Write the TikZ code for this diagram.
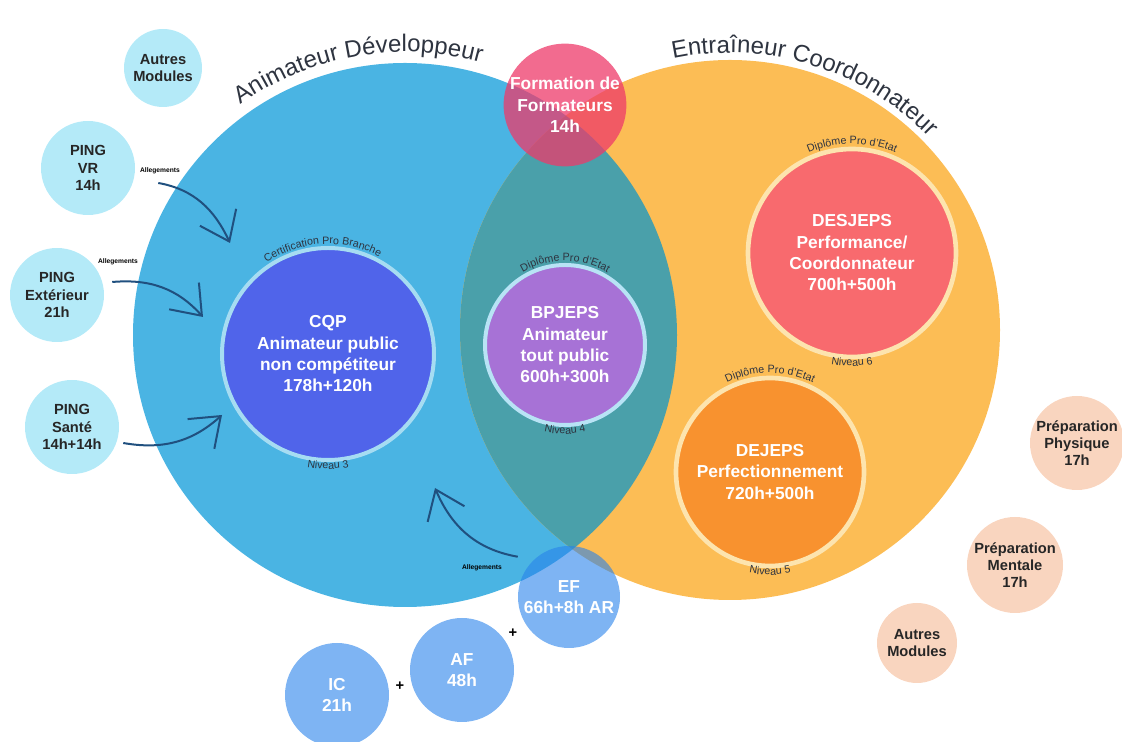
\documentclass[tikz,border=0pt]{standalone}
\usepackage{fontspec}
\setmainfont{Liberation Sans}
\usetikzlibrary{arrows.meta,decorations.text}

\definecolor{devblue}{HTML}{4AB4E3}
\definecolor{coachorange}{HTML}{FCBD55}
\definecolor{mixteal}{HTML}{4AA0AA}
\definecolor{cqpblue}{HTML}{5064EA}
\definecolor{bpviolet}{HTML}{A772D6}
\definecolor{desred}{HTML}{F86A6E}
\definecolor{deorange}{HTML}{F8922F}
\definecolor{formpink}{HTML}{EE3A6A}
\definecolor{modblue}{HTML}{2882EB}
\definecolor{pingcyan}{HTML}{B4EAF8}
\definecolor{prepeach}{HTML}{F9D5BF}
\definecolor{ringblue}{HTML}{A6DCF2}
\definecolor{ringcream}{HTML}{FDE4AE}
\definecolor{arrowblue}{HTML}{20507F}
\definecolor{titlegray}{HTML}{2E3440}

\tikzset{
  bubble/.style={circle, inner sep=0pt, align=center},
  maintext/.style={font=\bfseries\fontsize{13}{16}\selectfont, text=white},
  smalltext/.style={font=\bfseries\fontsize{11}{13}\selectfont, text=black!85},
  allege/.style={draw=arrowblue, line width=1.5pt,
    -{Straight Barb[length=20pt,width=30pt]}},
  allegetext/.style={font=\bfseries\fontsize{5}{6}\selectfont},
}

\begin{document}
\begin{tikzpicture}[x=0.75pt,y=0.75pt]
\useasboundingbox (0,0) rectangle (1122,742);

% the two big families
\node[bubble, fill=devblue, minimum size=408pt] (dev) at (405,407) {};
\node[bubble, fill=coachorange, minimum size=405pt] (coach) at (730,412) {};
\begin{scope}
  \clip (dev.center) circle[radius=272];
  \fill[mixteal] (coach.center) circle[radius=270];
\end{scope}

% diplomas
\node[bubble, maintext, fill=cqpblue, draw=ringblue, line width=3pt, minimum size=159pt] (cqp) at (328,388)
  {CQP\\Animateur public\\non compétiteur\\178h+120h};
\node[bubble, maintext, fill=bpviolet, draw=ringblue!80!white, line width=3pt, minimum size=120pt] (bp) at (565,397)
  {BPJEPS\\Animateur\\tout public\\600h+300h};
\node[bubble, maintext, fill=desred, draw=ringcream, line width=3.5pt, minimum size=156pt] (des) at (852,489)
  {DESJEPS\\Performance/\\Coordonnateur\\700h+500h};
\node[bubble, maintext, fill=deorange, draw=ringcream, line width=3.5pt, minimum size=141pt] (de) at (770,270)
  {DEJEPS\\Perfectionnement\\720h+500h};

\node[bubble, maintext, fill=formpink, fill opacity=0.75, text opacity=1, minimum size=84pt] (form) at (565,637)
  {Formation de\\Formateurs\\14h};

% modules below
\node[bubble, maintext, fill=modblue, fill opacity=0.6, text opacity=1, minimum size=76.5pt] (ef) at (569,145)
  {EF\\66h+8h AR};
\node[bubble, maintext, fill=modblue, fill opacity=0.6, text opacity=1, minimum size=78pt] (af) at (462,72)
  {AF\\48h};
\node[bubble, maintext, fill=modblue, fill opacity=0.6, text opacity=1, minimum size=78pt] (ic) at (337,47)
  {IC\\21h};
\node[font=\bfseries\fontsize{11}{11}\selectfont] (plusa) at (513,109) {+};
\node[font=\bfseries\fontsize{11}{11}\selectfont] (plusb) at (400,56) {+};

% left modules
\node[bubble, smalltext, fill=pingcyan, minimum size=58.5pt] (autresl) at (163,674) {Autres\\Modules};
\node[bubble, smalltext, fill=pingcyan, minimum size=70.5pt] (vr) at (88,574) {PING\\VR\\14h};
\node[bubble, smalltext, fill=pingcyan, minimum size=70.5pt] (ext) at (57,447) {PING\\Extérieur\\21h};
\node[bubble, smalltext, fill=pingcyan, minimum size=70.5pt] (sante) at (72,315) {PING\\Santé\\14h+14h};

% right modules
\node[bubble, smalltext, fill=prepeach, minimum size=70.5pt] (phys) at (1077,299) {Préparation\\Physique\\17h};
\node[bubble, smalltext, fill=prepeach, minimum size=72pt] (ment) at (1015,177) {Préparation\\Mentale\\17h};
\node[bubble, smalltext, fill=prepeach, minimum size=60pt] (autresr) at (917,99) {Autres\\Modules};

% allegements
\coordinate (t1) at (230,499);
\coordinate (t2) at (203,425);
\coordinate (t3) at (222,327);
\coordinate (t4) at (435,254);
\draw[allege] ([shift={(23,-15)}]vr.east) to[out=-10, in=115] (t1);
\draw[allege] ([shift={(8,13)}]ext.east) to[out=5, in=132] (t2);
\draw[allege] ([shift={(4,-16)}]sante.east) to[out=-10, in=-138] (t3);
\draw[allege] ([shift={(-15,4)}]ef.north west) to[out=170, in=-67] (t4);
\node[allegetext] (alla) at (160,571) {Allegements};
\node[allegetext] (allb) at (118,480) {Allegements};
\node[allegetext] (allc) at (482,174) {Allegements};

% curved titles
\path[decorate, decoration={text along path, text align=center,
  text={|\fontsize{18}{18}\selectfont\color{titlegray}|Animateur Développeur}}]
  ([shift={(130:283)}]dev.center) arc[start angle=130, end angle=70, radius=283];
\path[decorate, decoration={text along path, text align=center,
  text={|\fontsize{18}{18}\selectfont\color{titlegray}|Entraîneur Coordonnateur}}]
  ([shift={(106:277)}]coach.center) arc[start angle=106, end angle=40, radius=277];

% small ring labels
\path[decorate, decoration={text along path, text align=center,
  text={|\fontsize{8}{8}\selectfont\color{titlegray}|Certification Pro Branche}}]
  ([shift={(140:110)}]cqp.center) arc[start angle=140, end angle=46, radius=110];
\path[decorate, decoration={text along path, text align=center,
  text={|\fontsize{8}{8}\selectfont\color{titlegray}|Niveau 3}}]
  ([shift={(240:115)}]cqp.center) arc[start angle=240, end angle=300, radius=115];
\path[decorate, decoration={text along path, text align=center,
  text={|\fontsize{8}{8}\selectfont\color{titlegray}|Diplôme Pro d'Etat}}]
  ([shift={(140:84)}]bp.center) arc[start angle=140, end angle=40, radius=84];
\path[decorate, decoration={text along path, text align=center,
  text={|\fontsize{8}{8}\selectfont\color{titlegray}|Niveau 4}}]
  ([shift={(230:89)}]bp.center) arc[start angle=230, end angle=310, radius=89];
\path[decorate, decoration={text along path, text align=center,
  text={|\fontsize{8}{8}\selectfont\color{titlegray}|Diplôme Pro d'Etat}}]
  ([shift={(135:109)}]des.center) arc[start angle=135, end angle=45, radius=109];
\path[decorate, decoration={text along path, text align=center,
  text={|\fontsize{8}{8}\selectfont\color{titlegray}|Niveau 6}}]
  ([shift={(240:113)}]des.center) arc[start angle=240, end angle=300, radius=113];
\path[decorate, decoration={text along path, text align=center,
  text={|\fontsize{8}{8}\selectfont\color{titlegray}|Diplôme Pro d'Etat}}]
  ([shift={(138:99)}]de.center) arc[start angle=138, end angle=42, radius=99];
\path[decorate, decoration={text along path, text align=center,
  text={|\fontsize{8}{8}\selectfont\color{titlegray}|Niveau 5}}]
  ([shift={(235:103)}]de.center) arc[start angle=235, end angle=305, radius=103];
\end{tikzpicture}
\end{document}
